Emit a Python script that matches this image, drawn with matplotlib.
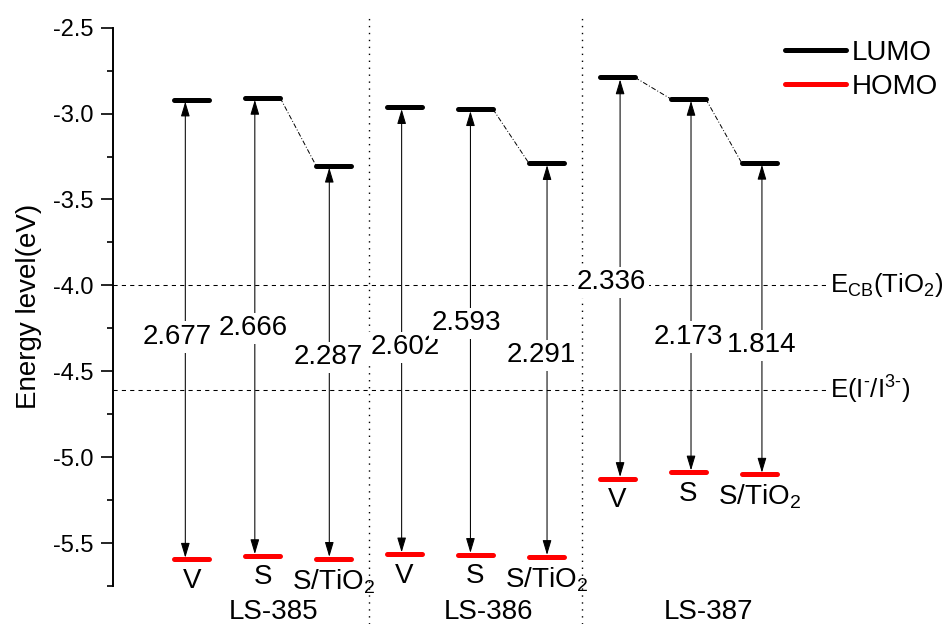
import matplotlib
matplotlib.use('Agg')
import matplotlib.pyplot as plt
from matplotlib.lines import Line2D
from matplotlib.ticker import MultipleLocator, FormatStrFormatter

plt.rcParams['font.family'] = ['Liberation Sans', 'DejaVu Sans']
plt.rcParams['mathtext.fontset'] = 'custom'
plt.rcParams['mathtext.rm'] = 'Liberation Sans'
plt.rcParams['mathtext.it'] = 'Liberation Sans:italic'
plt.rcParams['mathtext.bf'] = 'Liberation Sans:bold'
plt.rcParams['mathtext.default'] = 'regular'
plt.rcParams['axes.unicode_minus'] = False

# data
groups = ['LS-385', 'LS-386', 'LS-387']
states = ['V', 'S', 'S/TiO$_2$']
lumo = [-2.918, -2.908, -3.303, -2.962, -2.974, -3.288, -2.789, -2.914, -3.286]
homo = [-5.595, -5.574, -5.590, -5.564, -5.567, -5.579, -5.125, -5.087, -5.100]
gap = ['2.677', '2.666', '2.287', '2.602', '2.593', '2.291', '2.336', '2.173', '1.814']
e_cb = -4.0
e_redox = -4.61

# layout tweaks
arrow_dx = [-0.09, -0.11, -0.06, -0.04, -0.07, 0.01, 0.04, 0.04, 0.04]
text_dx = [-0.20, -0.14, -0.08, 0.01, -0.13, -0.07, -0.08, 0.0, 0.04]
text_y = [-4.302, -4.250, -4.419, -4.361, -4.221, -4.407, -3.982, -4.302, -4.349]
group_dx = [0.15, 0.19, 0.28]

fig = plt.figure(figsize=(9.43, 6.24), dpi=100)
ax = fig.add_axes([0.1198, 0.0609, 0.7604, 0.8947])

xs = list(range(1, len(lumo) + 1))
hw = 0.247
fs = 20

# reference levels
ax.axhline(e_cb, color='k', lw=0.75, ls=(0, (4, 4)), zorder=1)
ax.axhline(e_redox, color='k', lw=0.75, ls=(0, (4, 4)), zorder=1)
ax.text(10.0, e_cb, 'E$_{CB}$(TiO$_2$)', fontsize=18.5, ha='left', va='center')
ax.text(10.0, e_redox, 'E(I$^{\u2010}$/I$^{3\u2010}$)', fontsize=18.5, ha='left', va='center')

# group separators
for sx in [3.5, 6.5]:
    ax.axvline(sx, ymin=-0.068, ymax=1.023, color='k', lw=1.0,
               ls=(0, (1, 4)), clip_on=False, zorder=1)

# levels
for i, x in enumerate(xs):
    ax.plot([x - hw, x + hw], [lumo[i], lumo[i]], color='k', lw=3.6,
            solid_capstyle='round', zorder=5)
    ax.plot([x - hw, x + hw], [homo[i], homo[i]], color='#ff0000', lw=3.6,
            solid_capstyle='round', zorder=5)
    ax_x = x + arrow_dx[i]
    ax.annotate('', xy=(ax_x, lumo[i]), xytext=(ax_x, homo[i]),
                arrowprops=dict(arrowstyle='<|-|>,head_length=0.6,head_width=0.18',
                                mutation_scale=15, lw=0.75, color='k',
                                shrinkA=1.2, shrinkB=1.5), zorder=2)
    ax.text(x + text_dx[i], text_y[i], gap[i], fontsize=fs, ha='center', va='center',
            bbox=dict(facecolor='white', edgecolor='none', pad=2), zorder=4)
    ax.text(x, homo[i] - 0.05, states[i % 3], fontsize=fs, ha='center', va='top', zorder=4)

# dash-dot connectors between LUMO levels
for a, b in [(1, 2), (4, 5), (6, 7), (7, 8)]:
    ax.plot([xs[a] + hw, xs[b] - hw], [lumo[a], lumo[b]], color='k', lw=0.7,
            ls=(0, (5, 2, 1, 2)), zorder=3)

for g, name in enumerate(groups):
    ax.text(3 * g + 2 + group_dx[g], -5.90, name, fontsize=fs, ha='center',
            va='center', clip_on=False)

handles = [Line2D([], [], color='k', lw=3.6, solid_capstyle='round'),
           Line2D([], [], color='#ff0000', lw=3.6, solid_capstyle='round')]
fig.legend(handles, ['LUMO', 'HOMO'], loc='upper left',
           bbox_to_anchor=(785 / 943, 1 - 40 / 624), frameon=False, fontsize=fs,
           borderpad=0, borderaxespad=0, handlelength=2.2, handletextpad=0.2,
           labelspacing=0.28)

ax.set_xlim(-0.11, 10.0)
ax.set_ylim(-5.75, -2.5)
ax.yaxis.set_major_locator(MultipleLocator(0.5))
ax.yaxis.set_minor_locator(MultipleLocator(0.25))
ax.yaxis.set_major_formatter(FormatStrFormatter('%.1f'))
ax.set_xticks([])
for s in ['top', 'right', 'bottom']:
    ax.spines[s].set_visible(False)
ax.spines['left'].set_linewidth(1.4)
ax.tick_params(axis='y', which='major', length=8.3, width=1.2, labelsize=17, pad=5.5)
ax.tick_params(axis='y', which='minor', length=4.5, width=1.2)
ax.set_ylabel('Energy level(eV)', fontsize=fs, labelpad=8)

fig.savefig('out.png', dpi=100)
